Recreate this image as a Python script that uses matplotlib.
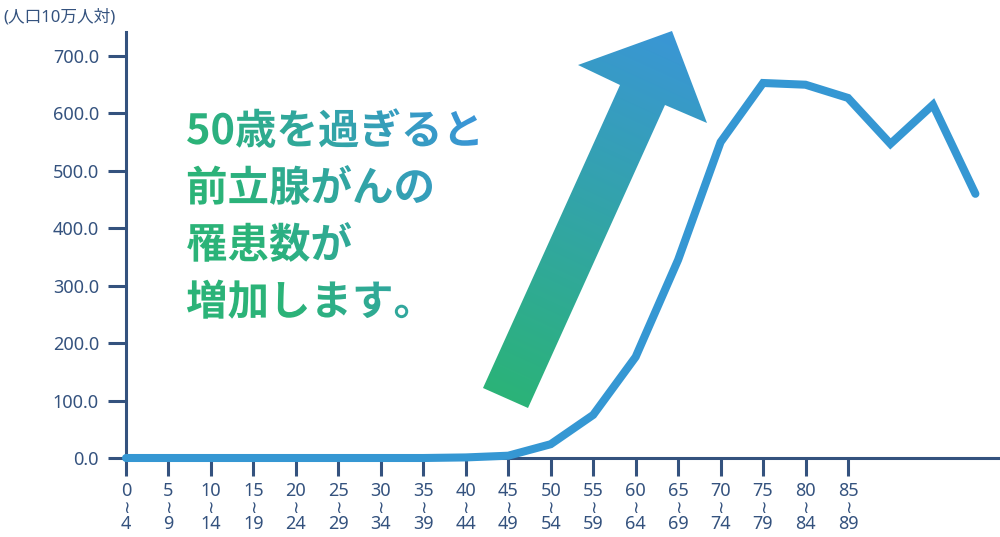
import matplotlib

matplotlib.use("Agg")

import matplotlib.pyplot as plt
import numpy as np
from matplotlib.colors import LinearSegmentedColormap
from matplotlib.font_manager import FontProperties
from matplotlib.patches import PathPatch, Polygon
from matplotlib.textpath import TextPath
from matplotlib.transforms import Affine2D

plt.rcParams["font.family"] = ["Noto Sans", "Noto Sans CJK JP", "DejaVu Sans"]

# age groups (lower bound of each 5-year band); only up to 85-89 are labelled
age_low = [0, 5, 10, 15, 20, 25, 30, 35, 40, 45, 50, 55, 60, 65, 70, 75, 80, 85]
age_high = [4, 9, 14, 19, 24, 29, 34, 39, 44, 49, 54, 59, 64, 69, 74, 79, 84, 89]
# incidence per 100k population (21 points)
incidence = [0, 0, 0, 0, 0, 0, 0, 0, 1, 4, 24, 75, 176, 345, 550,
             653, 650, 627, 547, 615, 460]
y_ticks = [0, 100, 200, 300, 400, 500, 600, 700]
y_unit = "(人口10万人対)"
message = ["50歳を過ぎると", "前立腺がんの", "罹患数が", "増加します。"]

NAVY = "#34527e"
LINE = "#3597d3"
GREEN = "#2bb378"
BLUE = "#3a96d6"
grad = LinearSegmentedColormap.from_list("gb", [GREEN, BLUE])

W, H = 1000, 537
fig = plt.figure(figsize=(W / 100, H / 100), dpi=100)

# main chart, placed in pixel terms
left, bottom, top = 126, 458, 32
ax = fig.add_axes([left / W, 1 - bottom / H, 1 - left / W, (bottom - top) / H])
x = np.arange(len(incidence))
ax.plot(x, incidence, color=LINE, linewidth=5.8, solid_capstyle="round",
        solid_joinstyle="miter", clip_on=False, zorder=5)
ax.set_xlim(0, (W - left) / 42.47)
ax.set_ylim(0, 700 * (bottom - top) / (bottom - 56))

for side in ("top", "right"):
    ax.spines[side].set_visible(False)
for side in ("left", "bottom"):
    ax.spines[side].set_color(NAVY)
    ax.spines[side].set_linewidth(2.2)

ax.set_yticks(y_ticks)
ax.set_yticklabels([f"{v:.1f}" for v in y_ticks])
ax.set_xticks(np.arange(len(age_low)))
ax.set_xticklabels([])
ax.tick_params(axis="both", colors=NAVY, length=13, width=2.2, labelsize=13)
ax.tick_params(axis="y", pad=6.5)

# age band labels: lower bound, vertical wave dash, upper bound
xt = ax.get_xaxis_transform()
span = bottom - top
for i, (lo, hi) in enumerate(zip(age_low, age_high)):
    ax.text(i, (bottom - 491.5) / span, str(lo), transform=xt, ha="center",
            va="center", color=NAVY, fontsize=13)
    ax.text(i, (bottom - 508) / span, "≀", transform=xt,
            ha="center", va="center", color=NAVY, fontsize=12.5,
            family="DejaVu Sans")
    ax.text(i, (bottom - 524) / span, str(hi), transform=xt, ha="center",
            va="center", color=NAVY, fontsize=13)

fig.text(3 / W, 1 - 17 / H, y_unit, color=NAVY, fontsize=12, va="center", ha="left")

# overlay in pixel coordinates for the gradient arrow and message
ov = fig.add_axes([0, 0, 1, 1], zorder=10)
ov.set_xlim(0, W)
ov.set_ylim(H, 0)
ov.axis("off")
ov.patch.set_alpha(0)

gx, gy = np.meshgrid(np.arange(W) + 0.5, np.arange(H) + 0.5)

# arrow
arrow_pts = [(483, 388), (620, 85), (578, 65), (672, 31), (707, 123), (665, 105), (528, 408)]
tail = np.array([505, 398])
tip = np.array([672, 31])
d = tip - tail
t_arrow = ((gx - tail[0]) * d[0] + (gy - tail[1]) * d[1]) / (d @ d)
img = ov.imshow(np.clip(t_arrow, 0, 1), cmap=grad, extent=(0, W, H, 0),
                vmin=0, vmax=1, interpolation="bilinear")
arrow = Polygon(arrow_pts, closed=True, facecolor="none", edgecolor="none")
ov.add_patch(arrow)
img.set_clip_path(arrow)

# message text with gradient fill
fp = FontProperties(family="Noto Sans CJK JP", weight="bold")
em = 41.5
paths = []
for i, line in enumerate(message):
    base = 144 + i * 57
    tp = TextPath((0, 0), line, size=em, prop=fp)
    tp = Affine2D().scale(1, -1).translate(186, base).transform_path(tp)
    paths.append(tp)
t_text = np.clip(0.00357 * (gx - 190) - 0.002 * (gy - 128), 0, 1)
for tp in paths:
    im = ov.imshow(t_text, cmap=grad, extent=(0, W, H, 0), vmin=0, vmax=1,
                   interpolation="bilinear")
    patch = PathPatch(tp, facecolor="none", edgecolor="none")
    ov.add_patch(patch)
    im.set_clip_path(patch)

fig.savefig("out.png", dpi=100)
